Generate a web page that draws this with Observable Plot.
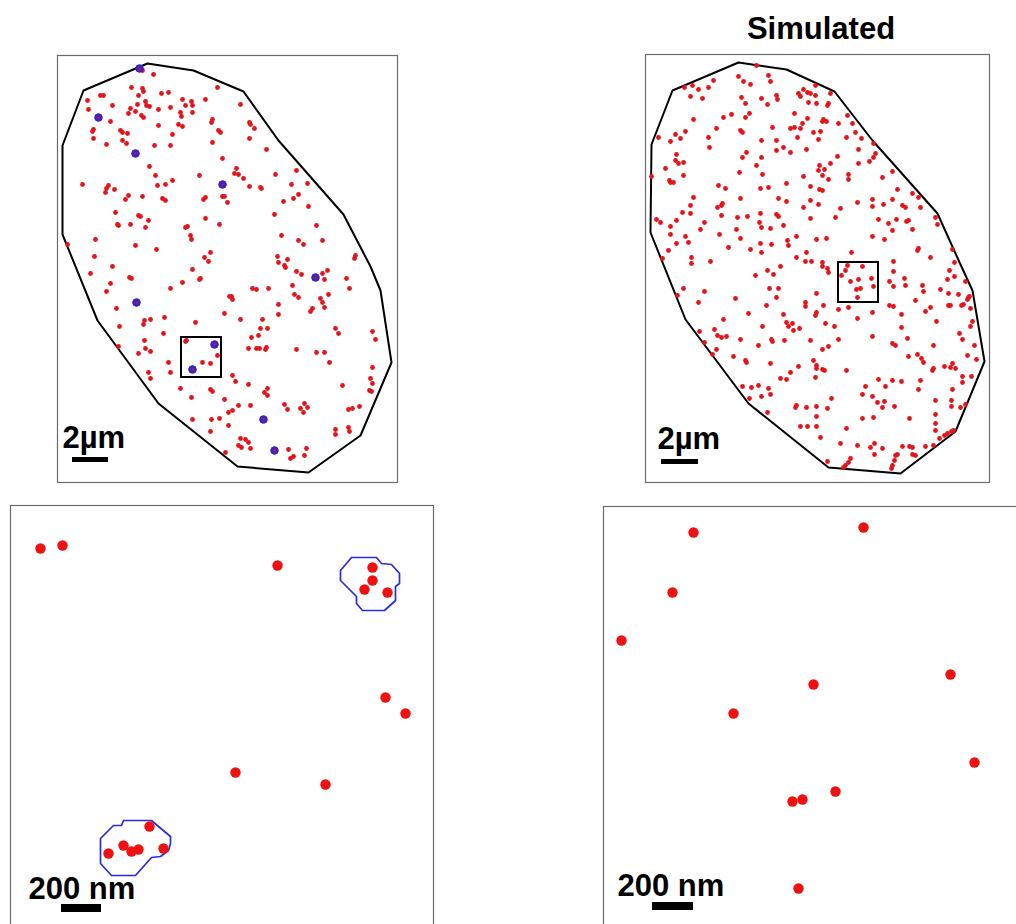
<!DOCTYPE html>
<html><head><meta charset="utf-8">
<script src="https://cdn.jsdelivr.net/npm/d3@7"></script>
<script src="https://cdn.jsdelivr.net/npm/@observablehq/plot@0.6"></script>
<style>
body{margin:0;background:#fff;}
#fig{position:relative;width:1016px;height:924px;overflow:hidden;background:#fff;font-family:"Liberation Sans",Arial,Helvetica,sans-serif;}
#title{position:absolute;left:671px;width:300px;top:13px;line-height:31px;text-align:center;font-weight:bold;font-size:31px;color:#000;}
</style></head><body><div id="fig"><div id="title">Simulated</div></div>
<script>
// ---- Data (coordinates in figure pixel units) ----
const outlineObserved = [[147,63],[193,70],[243,91],[278,140],[343,214],[370,266],[380,290],[391,362],[360,435],[308,472],[237,466],[158,403],[97,320],[62,234],[62,145],[83,90],[147,63]];
const outlineSimulated = [[738,62],[786,69],[834,91],[872,140],[937,213],[960,264],[972,290],[984,361],[955,431],[900,473],[828,467],[748,403],[685,319],[650,232],[651,144],[672,90],[738,62]];

const observedRed = [
[142,70],[153,74],[131,87],[142,88],[143,91],[161,93],[168,92],[217,87],[100,95],[103,95],[138,95],[87,100],[112,105],[137,104],[145,101],[146,105],[149,106],[158,109],[170,107],[182,99],[185,105],[191,101],[192,105],[205,99],[88,109],[130,108],[135,111],[128,113],[141,115],[143,117],[180,112],[181,116],[192,112],[110,121],[158,125],[178,124],[182,126],[212,119],[211,122],[93,129],[92,131],[120,130],[122,132],[127,133],[172,134],[218,130],[220,132],[93,138],[122,140],[126,143],[106,144],[154,145],[170,145],[212,142],[222,158],[149,166],[155,175],[157,185],[165,184],[172,180],[199,175],[82,184],[108,185],[106,188],[105,192],[114,189],[222,196],[224,196],[128,195],[125,199],[142,196],[162,198],[165,200],[203,199],[205,197],[115,212],[138,215],[140,216],[148,220],[117,224],[118,225],[130,224],[145,227],[185,227],[187,226],[205,218],[219,224],[190,235],[191,239],[95,239],[67,244],[135,245],[156,249],[210,252],[204,257],[208,261],[94,256],[112,266],
[240,104],[249,122],[250,124],[254,128],[249,138],[266,149],[236,168],[234,173],[238,174],[243,178],[275,174],[296,170],[249,186],[260,187],[261,188],[291,184],[307,183],[227,202],[298,194],[293,198],[283,201],[308,206],[274,214],[316,225],[281,235],[298,240],[303,244],[322,240],[277,256],[278,262],[287,259],[284,265],[355,255],[354,258],
[90,273],[129,277],[131,278],[110,283],[106,291],[170,288],[182,282],[192,269],[199,279],[200,278],[229,296],[116,308],[144,320],[150,319],[143,324],[164,317],[119,326],[195,322],[224,313],[163,333],[144,340],[185,341],[118,346],[145,348],[150,351],[138,353],[186,340],[217,355],[202,362],[210,363],[168,362],[170,372],[148,372],[150,378],[180,388],[210,389],[212,391],[191,397],[224,399],[228,412],[192,419],[211,419],[219,418],[210,431],[228,425],[225,452],
[285,267],[296,271],[301,274],[322,273],[324,279],[327,270],[346,278],[349,288],[292,285],[294,294],[298,297],[252,288],[256,289],[268,288],[231,296],[232,299],[320,298],[322,302],[324,307],[328,294],[278,304],[278,314],[310,311],[312,308],[240,319],[262,319],[260,328],[267,328],[251,337],[258,335],[335,328],[338,333],[372,331],[375,339],[248,348],[256,348],[259,348],[265,349],[266,347],[296,349],[316,352],[324,352],[329,362],[372,367],[232,375],[235,381],[248,384],[370,378],[372,383],[369,390],[371,391],[342,385],[267,388],[264,392],[267,395],[232,410],[238,405],[250,405],[284,404],[287,409],[300,408],[304,403],[307,407],[303,412],[348,409],[352,408],[359,406],[335,429],[335,434],[348,427],[349,431],[240,438],[245,439],[248,442],[238,445],[241,447],[250,448],[288,449],[290,458],[293,456],[306,448],[304,455]
];
const observedPurple = [[139,68],[98,117],[135,153],[222,184],[136,302],[214,344],[192,369],[315,277],[263,419],[274,450]];

const simulatedRed = [
[756,65],[738,76],[743,81],[750,84],[768,75],[770,81],[713,80],[698,89],[708,87],[692,85],[684,87],[690,96],[702,98],[741,97],[745,103],[761,98],[767,104],[776,95],[777,99],[798,93],[800,96],[803,89],[807,92],[810,93],[815,95],[808,102],[816,103],[731,114],[723,117],[745,117],[749,113],[794,113],[807,118],[802,123],[693,119],[716,128],[740,130],[742,132],[772,127],[790,128],[794,127],[800,128],[813,132],[797,137],[685,131],[675,134],[680,138],[670,141],[658,137],[708,137],[709,147],[761,140],[776,140],[783,147],[776,150],[790,152],[806,149],[746,152],[742,157],[676,154],[675,160],[678,163],[683,162],[761,157],[756,165],[665,168],[739,172],[762,174],[669,180],[670,182],[673,182],[683,175],[651,176],[803,176],[786,183],[810,186],[718,185],[725,188],[760,188],[768,187],[693,197],[740,198],[778,198],[786,201],[810,200],[690,205],[717,207],[721,205],[722,203],[803,207],[682,212],[690,213],[721,215],[760,213],[776,214],[778,216],[656,219],[660,222],[676,220],[704,222],[700,229],[737,217],[747,216],[759,222],[761,227],[783,225],[810,218],[670,226],[670,234],[685,236],[719,234],[736,229],[740,238],[770,228],[787,240],[788,245],[796,236],[676,243],[688,242],[728,247],[750,249],[760,243],[771,244],[816,239],[668,250],[691,257],[710,261],[761,252],[796,257],[806,252],[805,261],[811,261],[662,258],[691,263],
[815,85],[830,93],[828,103],[827,105],[822,121],[823,119],[826,121],[838,123],[847,115],[852,123],[820,131],[818,139],[846,137],[855,132],[861,138],[873,143],[875,153],[873,157],[858,149],[837,156],[830,163],[858,163],[869,161],[819,165],[818,170],[824,169],[822,175],[828,179],[848,174],[848,179],[882,177],[892,171],[819,189],[822,190],[897,189],[912,193],[918,197],[818,204],[857,202],[872,199],[872,206],[883,204],[892,199],[902,205],[905,207],[920,207],[840,208],[835,217],[878,219],[888,223],[896,219],[892,230],[906,221],[908,220],[912,229],[935,217],[937,224],[872,236],[884,239],[826,238],[917,250],[918,248],[851,252],[893,261],[930,257],[952,249],[954,262],[822,262],
[755,275],[767,270],[773,274],[780,266],[769,288],[778,288],[683,288],[704,291],[677,295],[735,298],[698,302],[776,297],[766,305],[805,302],[805,306],[816,293],[748,313],[783,314],[816,312],[815,315],[723,319],[786,322],[788,326],[792,323],[799,328],[793,330],[762,326],[714,329],[699,331],[717,335],[721,337],[726,336],[740,339],[771,339],[772,341],[784,340],[704,342],[758,345],[716,349],[810,340],[712,354],[733,356],[745,360],[746,362],[813,360],[816,365],[816,368],[770,363],[798,366],[790,372],[780,378],[786,379],[815,377],[742,386],[751,387],[758,385],[768,388],[770,394],[749,398],[761,396],[796,405],[795,407],[806,407],[816,406],[767,412],[816,416],[800,426],[807,426],[816,426],
[822,266],[827,268],[828,272],[847,265],[845,270],[841,275],[862,266],[850,281],[858,279],[871,278],[856,289],[860,288],[873,286],[857,297],[893,271],[904,278],[889,281],[893,286],[905,285],[922,285],[923,291],[940,289],[949,270],[947,279],[954,276],[965,281],[948,293],[958,294],[969,296],[968,297],[967,299],[915,300],[930,307],[925,311],[948,305],[950,305],[961,305],[963,304],[970,308],[823,305],[838,309],[848,307],[889,305],[893,306],[872,312],[901,314],[857,318],[936,321],[972,321],[825,323],[834,326],[970,326],[901,327],[959,333],[962,339],[838,339],[872,336],[907,338],[892,343],[895,345],[933,345],[974,345],[828,346],[822,349],[908,356],[917,354],[921,358],[923,362],[967,355],[976,359],[822,369],[824,370],[846,370],[932,370],[933,368],[944,366],[950,367],[952,363],[955,368],[962,376],[971,376],[962,382],[878,379],[885,386],[892,380],[901,381],[920,380],[918,389],[952,389],[865,386],[862,394],[872,396],[877,402],[882,407],[884,401],[894,406],[831,398],[827,408],[935,400],[951,400],[951,406],[960,407],[965,404],[862,418],[873,417],[909,418],[935,414],[935,423],[846,428],[935,430],[820,437],[944,435],[947,433],[951,431],[953,430],[939,438],[840,443],[857,445],[870,447],[874,443],[882,448],[902,446],[909,446],[912,447],[925,446],[933,445],[874,454],[895,455],[897,454],[912,454],[915,455],[894,460],[827,461],[848,462],[845,465],[843,467],[850,458],[892,465],[891,468]
];

const squareObserved = [{x1:181, x2:221, y1:337, y2:377}];
const squareSimulated = [{x1:838, x2:878, y1:262, y2:302}];

const zoomObservedRed = [[40,548],[62,545],[277,565],[372,567],[372,580],[364,589],[387,592],[385,697],[405,713],[235,772],[325,784],[149,826],[123,845],[131,851],[138,849],[108,853],[163,848]];
const clusterA = [[351,557],[376,557],[381,563],[391,564],[399,573],[399,583],[395,586],[395,600],[384,610],[362,610],[356,603],[356,596],[340,580],[340,570],[351,557]];
const clusterB = [[123,820],[151,820],[158,826],[170,836],[170,843],[168,850],[160,856],[151,857],[135,875],[111,875],[100,863],[100,838],[113,825],[121,825],[123,820]];
const zoomSimulatedRed = [[693,532],[863,527],[672,592],[621,640],[950,674],[813,684],[733,713],[974,762],[835,791],[792,801],[802,799],[798,888]];

const scaleBars = {
  TL: {label:"2µm", tx:62, ty:447, x1:72, x2:108, y1:457, y2:462, size:31},
  TR: {label:"2µm", tx:657, ty:448, x1:661, x2:698, y1:459, y2:464, size:31},
  BL: {label:"200 nm", tx:28, ty:898, x1:61, x2:101, y1:904, y2:912, size:31},
  BR: {label:"200 nm", tx:617, ty:895, x1:652, x2:693, y1:902, y2:910, size:31}
};

// ---- Rendering ----
const RED = "#e3151c";
const FONT = "Liberation Sans, Arial, Helvetica, sans-serif";
const fig = document.getElementById("fig");
const X = d => d[0], Y = d => d[1];

function scaleBarMarks(sb) {
  return [
    Plot.rect([sb], {x1:"x1", x2:"x2", y1:"y1", y2:"y2", fill:"black"}),
    Plot.text([sb], {x:"tx", y:"ty", text:"label", fontSize:sb.size, fontWeight:"bold", fontFamily:FONT, fill:"black", textAnchor:"start", lineAnchor:"bottom"})
  ];
}

function panel(left, top, right, bottom, marks) {
  const w = right - left, h = bottom - top;
  const svg = Plot.plot({
    width: w + 2, height: h + 2, margin: 1,
    x: {domain: [left, right], axis: null},
    y: {domain: [bottom, top], axis: null},
    style: {background: "white", overflow: "visible"},
    marks: [Plot.frame({stroke: "#6b6b6b", strokeWidth: 1.2}), ...marks]
  });
  svg.style.position = "absolute";
  svg.style.left = (left - 1) + "px";
  svg.style.top = (top - 1) + "px";
  svg.style.maxWidth = "none";
  fig.append(svg);
}

// Top-left: observed nucleus
panel(57, 55, 397, 482, [
  Plot.line(outlineObserved, {x: X, y: Y, stroke: "black", strokeWidth: 2}),
  Plot.dot(observedRed, {x: X, y: Y, r: 2.4, fill: RED}),
  Plot.dot(observedPurple, {x: X, y: Y, r: 3.8, fill: "#4a22a8", stroke: "#2323d8", strokeWidth: 1}),
  Plot.dot(observedPurple, {x: X, y: Y, r: 1.3, fill: "#c0186a", fillOpacity: 0.8}),
  Plot.rect(squareObserved, {x1: "x1", x2: "x2", y1: "y1", y2: "y2", fill: "none", stroke: "black", strokeWidth: 2}),
  ...scaleBarMarks(scaleBars.TL)
]);

// Top-right: simulated nucleus
panel(645, 54, 989, 482, [
  Plot.line(outlineSimulated, {x: X, y: Y, stroke: "black", strokeWidth: 2}),
  Plot.dot(simulatedRed, {x: X, y: Y, r: 2.4, fill: RED}),
  Plot.rect(squareSimulated, {x1: "x1", x2: "x2", y1: "y1", y2: "y2", fill: "none", stroke: "black", strokeWidth: 2}),
  ...scaleBarMarks(scaleBars.TR)
]);

// Bottom-left: zoom of observed square
panel(10, 505, 433, 932, [
  Plot.line(clusterA, {x: X, y: Y, stroke: "#2b2bdc", strokeWidth: 1.7}),
  Plot.line(clusterB, {x: X, y: Y, stroke: "#2b2bdc", strokeWidth: 1.7}),
  Plot.dot(zoomObservedRed, {x: X, y: Y, r: 5.2, fill: "#ee1111"}),
  ...scaleBarMarks(scaleBars.BL)
]);

// Bottom-right: zoom of simulated square
panel(603, 506, 1022, 932, [
  Plot.dot(zoomSimulatedRed, {x: X, y: Y, r: 5.2, fill: "#ee1111"}),
  ...scaleBarMarks(scaleBars.BR)
]);
</script></body></html>
